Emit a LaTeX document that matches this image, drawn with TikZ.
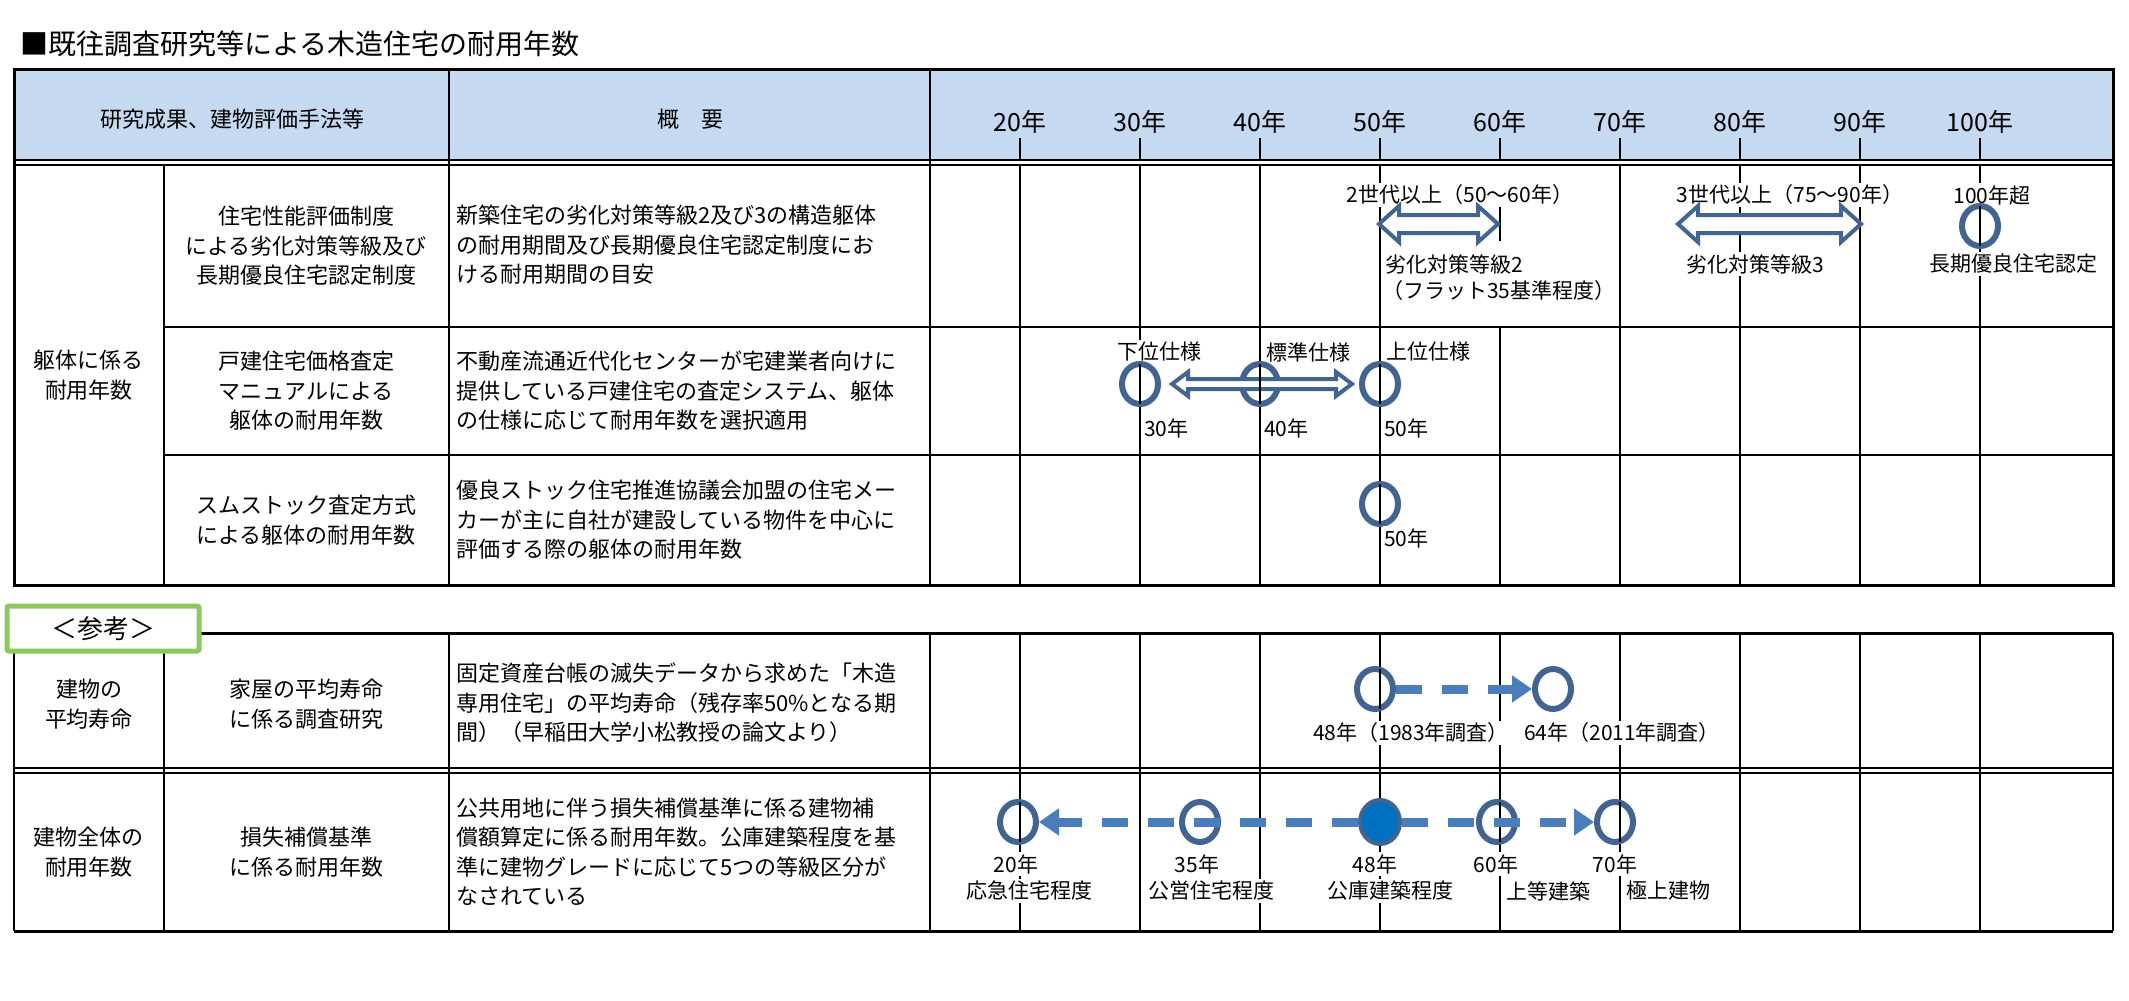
\documentclass[tikz,border=0pt]{standalone}
\usepackage{fontspec}
\setmainfont{Noto Sans CJK JP}
\usetikzlibrary{shapes.geometric,arrows.meta}
\definecolor{hdr}{RGB}{197,217,241}
\definecolor{ringc}{RGB}{65,100,145}
\definecolor{dashc}{RGB}{74,126,187}
\definecolor{fillc}{RGB}{0,112,192}
\definecolor{grn}{RGB}{141,200,90}
\newcommand\dblarr[6]{%
 \draw[blockarr] (#1,#3) -- ({#1+#6},{#3-#4/2}) -- ({#1+#6},{#3-#5/2}) -- ({#2-#6},{#3-#5/2}) -- ({#2-#6},{#3-#4/2}) -- (#2,#3) -- ({#2-#6},{#3+#4/2}) -- ({#2-#6},{#3+#5/2}) -- ({#1+#6},{#3+#5/2}) -- ({#1+#6},{#3+#4/2}) -- cycle;}
\begin{document}
\begin{tikzpicture}[x=1pt,y=-1pt,
 txt/.style={font=\fontsize{22}{29.5}\selectfont, inner sep=0pt},
 lab/.style={font=\fontsize{21}{26}\selectfont, fill=white, inner xsep=1pt, inner ysep=2pt},
 yr/.style={font=\fontsize{25}{28}\selectfont, inner sep=0pt},
 ring/.style={ellipse, draw=ringc, fill=white, line width=6pt, minimum width=36pt, minimum height=40pt, inner sep=0pt},
 blockarr/.style={draw=ringc, fill=white, line width=4pt, line join=miter},
 dasharr/.style={draw=dashc, line width=9pt, dash pattern=on 26pt off 20pt, -{Triangle[length=20pt,width=26pt]}},
 grid/.style={line width=1.3pt},
 thick3/.style={line width=3pt},
 mid/.style={line width=2pt}]
\useasboundingbox (0,0) rectangle (2129,1001);
\fill[white] (0,0) rectangle (2129,1001);
% title
\node[anchor=west, font=\fontsize{28}{30}\selectfont, inner sep=0pt] (title) at (20,44) {■既往調査研究等による木造住宅の耐用年数};
% ===== top table =====
\fill[hdr] (14,69) rectangle (2113,160);
\foreach \x in {1020,1140,...,1980} \draw[grid] (\x,138) -- (\x,160);
\foreach \x in {1020,1140,1260,1380,1620,1740,1860,1980} \draw[grid] (\x,165) -- (\x,585);
\draw[grid] (1500,327) -- (1500,585);
\draw[grid] (1500,207) -- (1500,241);
\draw[mid] (14,160) -- (2113,160);
\draw[mid] (14,165) -- (2113,165);
\draw[mid] (449,69) -- (449,585);
\draw[mid] (930,69) -- (930,585);
\draw[mid] (164,165) -- (164,585);
\draw[mid] (164,327) -- (2113,327);
\draw[mid] (164,455) -- (2113,455);
\draw[thick3] (14,69) rectangle (2113,585);
% header text
\node[txt] (h1) at (232,119) {研究成果、建物評価手法等};
\node[txt] (h2) at (690,119) {概　要};
\foreach \y/\x in {20/1020,30/1140,40/1260,50/1380,60/1500,70/1620,80/1740,90/1860,100/1980}
  \node[yr] (y\y) at (\x,122) {\y 年};
% left column
\node[txt, align=center] (g1) at (89,375) {躯体に係る\\耐用年数};
\node[txt, align=center] (r1a) at (306,246) {住宅性能評価制度\\による劣化対策等級及び\\長期優良住宅認定制度};
\node[txt, align=center] (r2a) at (306,391) {戸建住宅価格査定\\マニュアルによる\\躯体の耐用年数};
\node[txt, align=center] (r3a) at (306,520) {スムストック査定方式\\による躯体の耐用年数};
\node[txt, align=left, anchor=west] (r1b) at (456,245) {新築住宅の劣化対策等級2及び3の構造躯体\\の耐用期間及び長期優良住宅認定制度にお\\ける耐用期間の目安};
\node[txt, align=left, anchor=west] (r2b) at (456,391) {不動産流通近代化センターが宅建業者向けに\\提供している戸建住宅の査定システム、躯体\\の仕様に応じて耐用年数を選択適用};
\node[txt, align=left, anchor=west] (r3b) at (456,520) {優良ストック住宅推進協議会加盟の住宅メー\\カーが主に自社が建設している物件を中心に\\評価する際の躯体の耐用年数};
% row1 chart
\node[lab] (t2g) at (1460,195) {2世代以上（50～60年）};
\dblarr{1379}{1498}{224}{36}{18}{20}
\node[lab, anchor=west] (t2a) at (1384,264) {劣化対策等級2};
\node[lab, anchor=west] (t2b) at (1381,291) {（フラット35基準程度）};
\node[lab] (t3g) at (1790,195) {3世代以上（75～90年）};
\dblarr{1678}{1861}{224}{36}{18}{20}
\node[lab, anchor=west] (t3a) at (1685,264) {劣化対策等級3};
\node[lab] (t100) at (1992,195) {100年超};
\node[ring] (c100) at (1980,226) {};
\draw[grid] (1980,206) -- (1980,246);
\node[lab] (tchoki) at (2013,264) {長期優良住宅認定};
% row2 chart
\node[lab] (ka) at (1159,352) {下位仕様};
\node[lab] (hy) at (1308,352) {標準仕様};
\node[lab] (jo) at (1428,352) {上位仕様};
\node[ring] (c30) at (1140,384) {};
\node[ring] (c40) at (1260,384) {};
\node[ring] (c50) at (1380,384) {};
\dblarr{1172}{1352}{384}{24}{10}{16}
\draw[grid] (1140,364) -- (1140,404);
\draw[grid] (1260,364) -- (1260,404);
\draw[grid] (1380,364) -- (1380,404);
\node[lab, anchor=west] (l30) at (1143,428) {30年};
\node[lab, anchor=west] (l40) at (1263,428) {40年};
\node[lab, anchor=west] (l50) at (1383,428) {50年};
% row3 chart
\node[ring] (c50b) at (1380,504) {};
\draw[grid] (1380,484) -- (1380,524);
\node[lab, anchor=west] (l50b) at (1383,538) {50年};
% ===== lower table =====
\foreach \x in {1020,1140,...,1980} \draw[grid] (\x,633) -- (\x,931);
\draw[mid] (14,768) -- (2113,768);
\draw[mid] (14,773) -- (2113,773);
\draw[mid] (164,633) -- (164,931);
\draw[mid] (449,633) -- (449,931);
\draw[mid] (930,633) -- (930,931);
\draw[mid] (14,640) -- (14,931);
\draw[mid] (2113,633) -- (2113,931);
\draw[thick3] (200,633) -- (2113,633);
\draw[thick3] (14,931) -- (2113,931);
\draw[draw=grn, fill=white, line width=5pt, rounded corners=2pt] (7,606) rectangle (199,651);
\node[font=\fontsize{26}{28}\selectfont, inner sep=0pt] (sanko) at (103,629) {＜参考＞};
\node[txt, align=center] (b1) at (89,704) {建物の\\平均寿命};
\node[txt, align=center] (b2) at (306,704) {家屋の平均寿命\\に係る調査研究};
\node[txt, align=left, anchor=west] (b3) at (456,703) {固定資産台帳の滅失データから求めた「木造\\専用住宅」の平均寿命（残存率50\%となる期\\間）（早稲田大学小松教授の論文より）};
\node[txt, align=center] (d1) at (89,852) {建物全体の\\耐用年数};
\node[txt, align=center] (d2) at (306,852) {損失補償基準\\に係る耐用年数};
\node[txt, align=left, anchor=west] (d3) at (456,852) {公共用地に伴う損失補償基準に係る建物補\\償額算定に係る耐用年数。公庫建築程度を基\\準に建物グレードに応じて5つの等級区分が\\なされている};
% lower row1 chart
\node[ring] (c48) at (1375,689) {};
\node[ring] (c64) at (1553,689) {};
\draw[grid] (1380,669) -- (1380,709);
\draw[dasharr] (c48.east) -- (c64.west);
\node[lab] (l48a) at (1411,733) {48年（1983年調査）};
\node[lab] (l64a) at (1622,733) {64年（2011年調査）};
% lower row2 chart
\node[ring] (k20) at (1018,822) {};
\node[ring] (k35) at (1200,822) {};
\node[ring] (k60) at (1497,822) {};
\node[ring] (k70) at (1615,822) {};
\draw[grid] (1020,802) -- (1020,842);
\draw[grid] (1500,802) -- (1500,842);
\draw[grid] (1620,802) -- (1620,842);
\node[ellipse, draw=ringc, fill=fillc, line width=4pt, minimum width=40pt, minimum height=44pt, inner sep=0pt] (k48) at (1380,822) {};
\draw[dasharr] (k48.west) -- (k20.east);
\draw[dasharr] (k48.east) -- (k70.west);
\node[lab] (m20) at (1016,864) {20年};
\node[lab] (n20) at (1029,891) {応急住宅程度};
\node[lab] (m35) at (1197,864) {35年};
\node[lab] (n35) at (1211,891) {公営住宅程度};
\node[lab] (m48) at (1375,864) {48年};
\node[lab] (n48) at (1390,891) {公庫建築程度};
\node[lab] (m60) at (1496,864) {60年};
\node[lab] (n60) at (1548,891) {上等建築};
\node[lab] (m70) at (1615,864) {70年};
\node[lab] (n70) at (1668,891) {極上建物};
\end{tikzpicture}
\end{document}
